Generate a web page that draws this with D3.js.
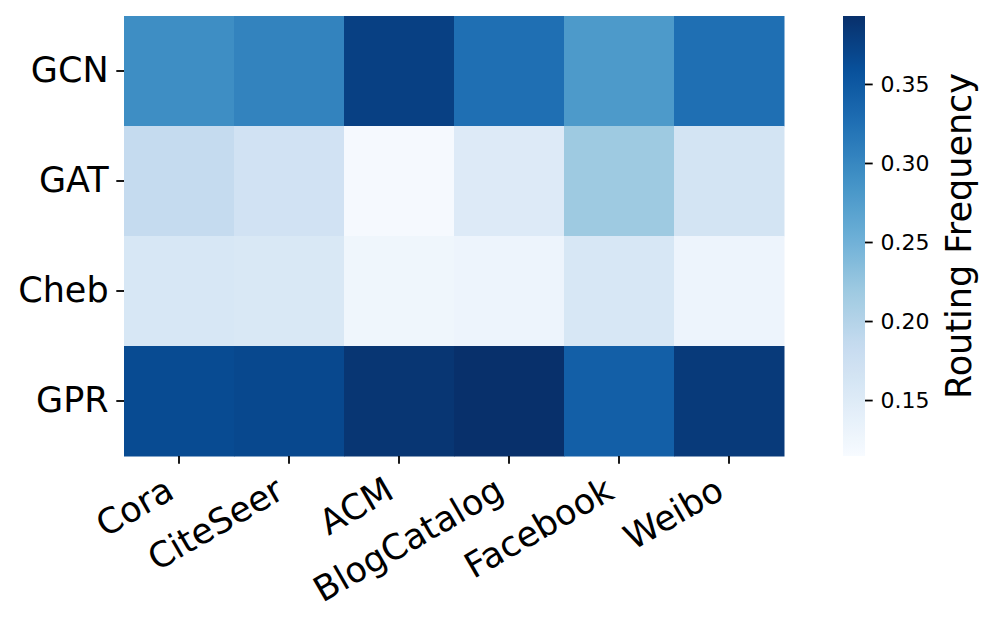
<!DOCTYPE html>
<html>
<head>
<meta charset="utf-8">
<script src="https://cdn.jsdelivr.net/npm/d3@7"></script>
<style>
  html, body { margin: 0; padding: 0; background: #fff; }
  svg { display: block; }
  svg text { font-family: "DejaVu Sans", sans-serif; }
</style>
</head>
<body>
<div id="chart"></div>
<script>
const datasets = ["Cora", "CiteSeer", "ACM", "BlogCatalog", "Facebook", "Weibo"];
const models = ["GCN", "GAT", "Cheb", "GPR"];
const gcnValues = [0.293, 0.304, 0.376, 0.326, 0.279, 0.326];
const gatValues = [0.185, 0.168, 0.118, 0.151, 0.219, 0.165];
const chebValues = [0.159, 0.157, 0.126, 0.129, 0.159, 0.129];
const gprValues = [0.365, 0.368, 0.387, 0.393, 0.343, 0.382];
const colorTicks = [0.15, 0.20, 0.25, 0.30, 0.35];
const colorDomain = [0.1146, 0.393];
const colorLabel = "Routing Frequency";

const rows = [gcnValues, gatValues, chebValues, gprValues];
const cells = [];
rows.forEach((vals, i) => vals.forEach((v, j) => cells.push({ model: models[i], dataset: datasets[j], value: v })));

const width = 996, height = 627;
const plot = { left: 124, top: 16, right: 784, bottom: 456 };
const cbar = { left: 843, right: 865 };

// matplotlib "Blues" - linear segments through the ColorBrewer stops
const bluesStops = ["#f7fbff", "#deebf7", "#c6dbef", "#9ecae1", "#6baed6", "#4292c6", "#2171b5", "#08519c", "#08306b"];
const blues = d3.scaleLinear()
    .domain(d3.range(bluesStops.length).map(i => i / (bluesStops.length - 1)))
    .range(bluesStops)
    .interpolate(d3.interpolateRgb)
    .clamp(true);
const norm = d3.scaleLinear().domain(colorDomain).range([0, 1]).clamp(true);
const color = v => blues(norm(v));

const svg = d3.select("#chart").append("svg")
    .attr("width", width)
    .attr("height", height)
    .attr("viewBox", [0, 0, width, height]);

const x = d3.scaleBand().domain(datasets).range([plot.left, plot.right]);
const y = d3.scaleBand().domain(models).range([plot.top, plot.bottom]);

svg.append("g")
  .selectAll("rect")
  .data(cells)
  .join("rect")
    .attr("x", d => x(d.dataset))
    .attr("y", d => y(d.model))
    .attr("width", x.bandwidth() + 0.5)
    .attr("height", y.bandwidth() + 0.5)
    .attr("fill", d => color(d.value));

// x axis
const xAxis = svg.append("g")
    .attr("transform", `translate(0,${plot.bottom})`)
    .call(d3.axisBottom(x).tickSize(7.7).tickPadding(7.7));
xAxis.attr("font-family", null);
xAxis.select(".domain").remove();
xAxis.selectAll(".tick line").attr("stroke", "#000").attr("stroke-width", 1.8);
xAxis.selectAll(".tick text")
    .attr("font-size", 35)
    .attr("fill", "#000")
    .attr("text-anchor", "end")
    .attr("dy", null)
    .attr("y", null)
    .attr("transform", "translate(-3,41) rotate(-30)");

// y axis
const yAxis = svg.append("g")
    .attr("transform", `translate(${plot.left},0)`)
    .call(d3.axisLeft(y).tickSize(7.7).tickPadding(7.7));
yAxis.attr("font-family", null);
yAxis.select(".domain").remove();
yAxis.selectAll(".tick line").attr("stroke", "#000").attr("stroke-width", 1.8);
yAxis.selectAll(".tick text")
    .attr("font-size", 35)
    .attr("fill", "#000");

// colorbar
const cy = d3.scaleLinear().domain(colorDomain).range([plot.bottom, plot.top]);
const defs = svg.append("defs");
const grad = defs.append("linearGradient")
    .attr("id", "cbar-grad")
    .attr("x1", 0).attr("y1", 1).attr("x2", 0).attr("y2", 0);
grad.selectAll("stop")
  .data(d3.range(0, 1.0001, 0.02))
  .join("stop")
    .attr("offset", d => d)
    .attr("stop-color", d => blues(d));

svg.append("rect")
    .attr("x", cbar.left)
    .attr("y", plot.top)
    .attr("width", cbar.right - cbar.left)
    .attr("height", plot.bottom - plot.top)
    .attr("fill", "url(#cbar-grad)");

const cAxis = svg.append("g")
    .attr("transform", `translate(${cbar.right},0)`)
    .call(d3.axisRight(cy).tickValues(colorTicks).tickFormat(d3.format(".2f")).tickSize(7.7).tickPadding(7.7));
cAxis.attr("font-family", null);
cAxis.select(".domain").remove();
cAxis.selectAll(".tick line").attr("stroke", "#000").attr("stroke-width", 1.8);
cAxis.selectAll(".tick text")
    .attr("font-size", 22)
    .attr("fill", "#000");

svg.append("text")
    .attr("transform", `translate(971,${(plot.top + plot.bottom) / 2}) rotate(-90)`)
    .attr("text-anchor", "middle")
    .attr("font-size", 35)
    .attr("fill", "#000")
    .text(colorLabel);
</script>
</body>
</html>
